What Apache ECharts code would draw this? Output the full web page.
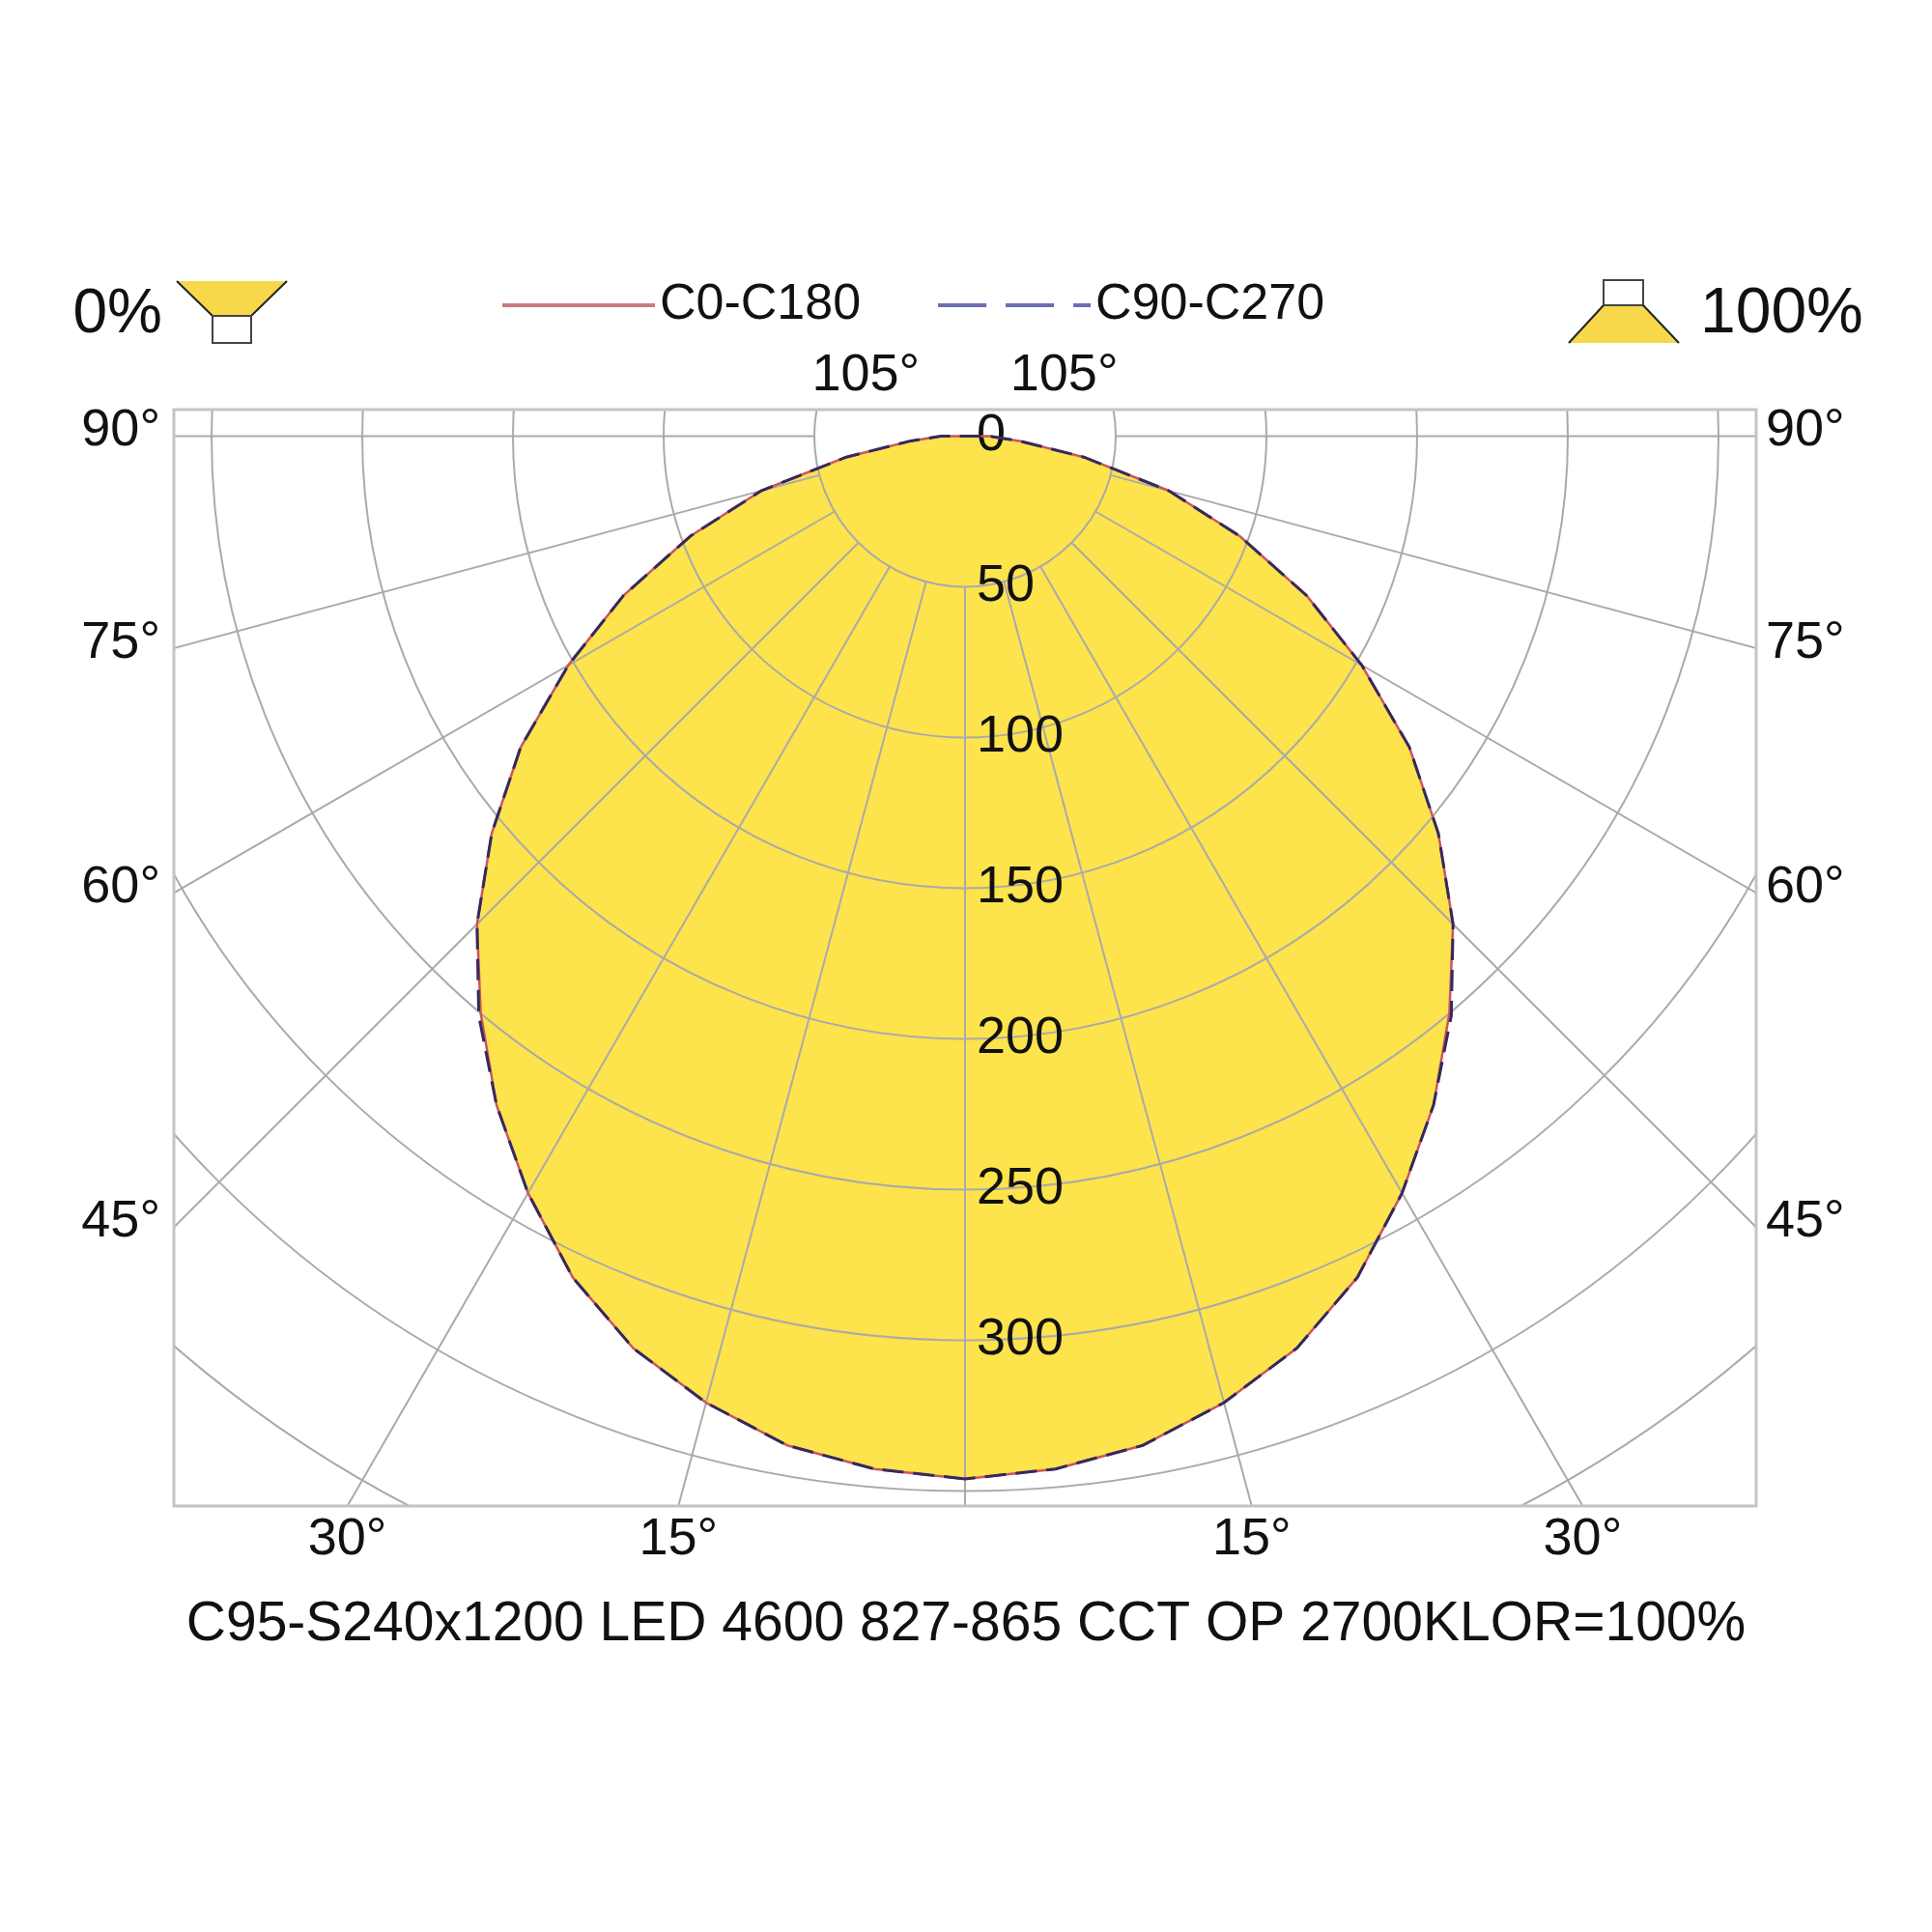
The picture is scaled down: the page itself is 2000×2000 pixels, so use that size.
<!DOCTYPE html>
<html>
<head>
<meta charset="utf-8">
<script src="https://cdn.jsdelivr.net/npm/echarts@6/dist/echarts.min.js"></script>
<style>
  html, body { margin: 0; padding: 0; background: #fff; }
  #chart { width: 2000px; height: 2000px; }
</style>
</head>
<body>
<div id="chart"></div>
<script>
// gamma angles (deg from nadir) and luminous intensity (cd/klm)
const gammaAngles = [0, 5, 10, 15, 20, 25, 30, 35, 40, 45, 50, 55, 60, 65, 70, 75, 80, 85, 90,
  95, 100, 105, 110, 115, 120, 125, 130, 135, 140, 145, 150, 155, 160, 165, 170, 175, 180];
const c0c180 = [346, 344, 340, 332, 322, 308, 290, 271, 250, 229, 205, 180, 152, 125, 97, 70, 40, 18, 8,
  0, 0, 0, 0, 0, 0, 0, 0, 0, 0, 0, 0, 0, 0, 0, 0, 0, 0];
const c90c270 = [346, 344, 340, 332, 322, 308, 290, 271, 251, 229, 205, 180, 152, 125, 97, 70, 40, 18, 8,
  0, 0, 0, 0, 0, 0, 0, 0, 0, 0, 0, 0, 0, 0, 0, 0, 0, 0];
const seriesNames = ['C0-C180', 'C90-C270'];
const radiusLabels = [0, 50, 100, 150, 200, 250, 300];
const sideAngleLabels = [45, 60, 75, 90];
const bottomAngleLabels = [15, 30];
const topAngleLabels = [105];
const titleText = 'C95-S240x1200 LED 4600 827-865 CCT OP 2700KLOR=100%';

// layout
const cx = 999, cy = 451.5;
const pxPerUnit = 3.12;
const rMax = 450;
const rInner = 50; // radial grid lines start at this circle
const box = { left: 180, top: 424, right: 1818, bottom: 1559 };
const FONT = 'Liberation Sans, Arial, sans-serif';
const GRID = '#aaaaaa';

// mirror one half-plane to the other side: [radius, angle]
function fullCurve(vals) {
  const pts = [];
  for (let i = 0; i < gammaAngles.length; i++) pts.push([vals[i], gammaAngles[i]]);
  for (let i = gammaAngles.length - 2; i >= 0; i--) pts.push([vals[i], 360 - gammaAngles[i]]);
  return pts;
}

const chart = echarts.init(document.getElementById('chart'));

// angle labels where the radial lines meet the frame
const texts = [];
const rad = d => d * Math.PI / 180;
sideAngleLabels.forEach(g => {
  const y = g === 90 ? cy : cy + (cx - box.left) / Math.tan(rad(g));
  texts.push({ x: box.left - 14, y: y - 5, text: g + '°', align: 'right' });
  texts.push({ x: box.right + 10, y: y - 5, text: g + '°', align: 'left' });
});
bottomAngleLabels.forEach(g => {
  const dx = (box.bottom - cy) * Math.tan(rad(g));
  texts.push({ x: cx - dx, y: box.bottom + 35, text: g + '°', align: 'center' });
  texts.push({ x: cx + dx, y: box.bottom + 35, text: g + '°', align: 'center' });
});
topAngleLabels.forEach(g => {
  const dx = (cy - box.top) / Math.tan(rad(g - 90));
  texts.push({ x: cx - dx, y: 389, text: g + '°', align: 'center' });
  texts.push({ x: cx + dx, y: 389, text: g + '°', align: 'center' });
});

const graphics = [
  // white masks outside the frame
  { type: 'rect', z: 50, silent: true, shape: { x: 0, y: 0, width: 2000, height: box.top }, style: { fill: '#fff' } },
  { type: 'rect', z: 50, silent: true, shape: { x: 0, y: box.bottom, width: 2000, height: 2000 - box.bottom }, style: { fill: '#fff' } },
  { type: 'rect', z: 50, silent: true, shape: { x: 0, y: 0, width: box.left, height: 2000 }, style: { fill: '#fff' } },
  { type: 'rect', z: 50, silent: true, shape: { x: box.right, y: 0, width: 2000 - box.right, height: 2000 }, style: { fill: '#fff' } },
  // frame
  { type: 'rect', z: 51, silent: true,
    shape: { x: box.left, y: box.top, width: box.right - box.left, height: box.bottom - box.top },
    style: { fill: 'none', stroke: '#c4c4c4', lineWidth: 3 } },
  // 0% icon (light pointing up)
  { type: 'polygon', z: 52, shape: { points: [[183, 291], [297, 291], [260, 327], [220, 327]] }, style: { fill: '#f6d84a' } },
  { type: 'polyline', z: 53, shape: { points: [[183, 291], [220, 327]] }, style: { stroke: '#222', lineWidth: 2 } },
  { type: 'polyline', z: 53, shape: { points: [[297, 291], [260, 327]] }, style: { stroke: '#222', lineWidth: 2 } },
  { type: 'rect', z: 53, shape: { x: 220, y: 327, width: 40, height: 28 }, style: { fill: '#fff', stroke: '#444', lineWidth: 2 } },
  { type: 'text', z: 53, style: { x: 168, y: 326, text: '0%', font: '64px ' + FONT, fill: '#111', align: 'right', verticalAlign: 'middle' } },
  // 100% icon (light pointing down)
  { type: 'rect', z: 53, shape: { x: 1660, y: 290, width: 41, height: 26 }, style: { fill: '#fff', stroke: '#444', lineWidth: 2 } },
  { type: 'polygon', z: 52, shape: { points: [[1660, 316], [1701, 316], [1738, 355], [1624, 355]] }, style: { fill: '#f6d84a' } },
  { type: 'polyline', z: 53, shape: { points: [[1660, 316], [1624, 355]] }, style: { stroke: '#222', lineWidth: 2 } },
  { type: 'polyline', z: 53, shape: { points: [[1701, 316], [1738, 355]] }, style: { stroke: '#222', lineWidth: 2 } },
  { type: 'text', z: 53, style: { x: 1760, y: 326, text: '100%', font: '66px ' + FONT, fill: '#111', align: 'left', verticalAlign: 'middle' } }
].concat(texts.map(t => ({
  type: 'text', z: 53, silent: true,
  style: { x: t.x, y: t.y, text: t.text, font: '54px ' + FONT, fill: '#111', align: t.align, verticalAlign: 'middle' }
})));

const option = {
  backgroundColor: '#fff',
  animation: false,
  title: {
    text: titleText,
    left: 'center',
    top: 1649,
    z: 60,
    textStyle: { fontFamily: FONT, fontSize: 57, fontWeight: 'normal', color: '#111' }
  },
  legend: {
    data: [
      { name: seriesNames[0], lineStyle: { color: '#c77b7f', width: 4, type: 'solid' },
        itemStyle: { color: 'rgba(0,0,0,0)', borderWidth: 0 } },
      { name: seriesNames[1], lineStyle: { color: '#6d6db5', width: 4, type: [50, 20] },
        itemStyle: { color: 'rgba(0,0,0,0)', borderWidth: 0 } }
    ],
    left: 518,
    top: 290,
    itemWidth: 158,
    itemHeight: 50,
    itemGap: 78,
    padding: 0,
    z: 60,
    textStyle: { fontFamily: FONT, fontSize: 52, color: '#111' }
  },
  // polar 0: data + circles; polar 1: radial lines starting at r = 50
  polar: [
    { center: [cx, cy], radius: rMax * pxPerUnit },
    { center: [cx, cy], radius: [rInner * pxPerUnit, rMax * pxPerUnit] }
  ],
  angleAxis: [
    {
      polarIndex: 0, type: 'value', min: 0, max: 360, interval: 15, startAngle: 270, z: 5,
      axisLine: { show: false }, axisTick: { show: false }, axisLabel: { show: false },
      splitLine: { show: false }
    },
    {
      polarIndex: 1, type: 'value', min: 0, max: 360, interval: 15, startAngle: 270, z: 5,
      axisLine: { show: false }, axisTick: { show: false }, axisLabel: { show: false },
      splitLine: { show: true, lineStyle: { color: GRID, width: 2 } }
    }
  ],
  radiusAxis: [
    {
      polarIndex: 0, type: 'value', min: 0, max: rMax, interval: 50, z: 6,
      axisLine: { show: false }, axisTick: { show: false },
      axisLabel: {
        margin: 12, fontFamily: FONT, fontSize: 54, color: '#111',
        formatter: v => (radiusLabels.indexOf(v) >= 0 ? String(v) : '')
      },
      splitLine: { show: true, lineStyle: { color: GRID, width: 2 } }
    },
    {
      polarIndex: 1, type: 'value', min: rInner, max: rMax, interval: 50, z: 5,
      axisLine: { show: false }, axisTick: { show: false }, axisLabel: { show: false },
      splitLine: { show: false }
    }
  ],
  graphic: graphics,
  series: [
    {
      name: 'fill', type: 'line', coordinateSystem: 'polar', polarIndex: 0, z: 1,
      data: fullCurve(c0c180), symbol: 'none', smooth: false, silent: true,
      lineStyle: { width: 0, opacity: 0 }, areaStyle: { color: '#fde34c', opacity: 1 }
    },
    {
      name: seriesNames[0], type: 'line', coordinateSystem: 'polar', polarIndex: 0, z: 10,
      data: fullCurve(c0c180), symbol: 'none', smooth: false,
      lineStyle: { color: '#c9565c', width: 2.5 }
    },
    {
      name: seriesNames[1], type: 'line', coordinateSystem: 'polar', polarIndex: 0, z: 11,
      data: fullCurve(c90c270), symbol: 'none', smooth: false,
      lineStyle: { color: '#35295f', width: 3, type: [22, 10] }
    }
  ]
};
chart.setOption(option);
</script>
</body>
</html>
